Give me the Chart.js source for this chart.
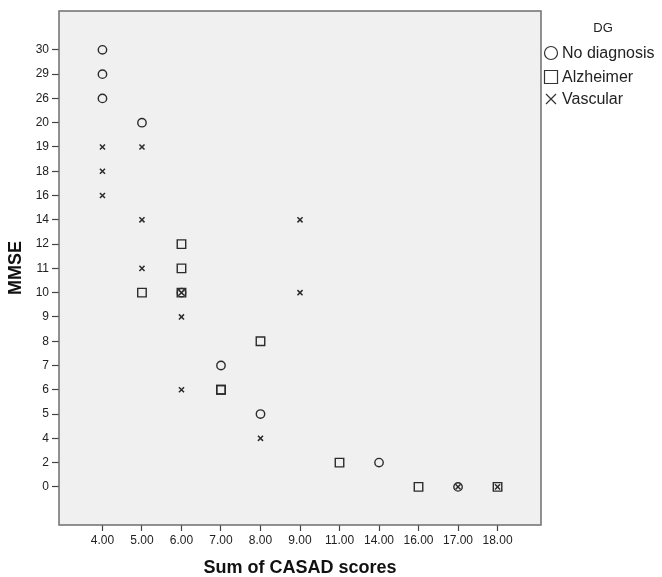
<!DOCTYPE html>
<html>
<head>
<meta charset="utf-8">
<script src="https://cdn.jsdelivr.net/npm/chart.js@4"></script>
<style>
  html, body { margin: 0; padding: 0; background: #fff; }
  #wrap { width: 662px; height: 577px; }
</style>
</head>
<body>
<div id="wrap"><canvas id="chart" width="662" height="577"></canvas></div>
<script>
// categories on both axes (SPSS treats them as ordinal, evenly spaced)
const xLabels = ['4.00', '5.00', '6.00', '7.00', '8.00', '9.00', '11.00', '14.00', '16.00', '17.00', '18.00'];
const yLabels = ['0', '2', '4', '5', '6', '7', '8', '9', '10', '11', '12', '14', '16', '18', '19', '20', '26', '29', '30'];

// points per diagnosis group: [CASAD sum, MMSE]
const noDiagX = ['4.00', '4.00', '4.00', '5.00', '6.00', '7.00', '8.00', '14.00', '17.00'];
const noDiagY = ['30', '29', '26', '20', '10', '7', '5', '2', '0'];

const alzX = ['6.00', '6.00', '5.00', '6.00', '8.00', '7.00', '7.00', '11.00', '16.00', '18.00'];
const alzY = ['12', '11', '10', '10', '8', '6', '6', '2', '0', '0'];

const vascX = ['4.00', '5.00', '4.00', '4.00', '5.00', '9.00', '5.00', '6.00', '9.00', '6.00', '6.00', '8.00', '17.00', '18.00'];
const vascY = ['19', '19', '18', '16', '14', '14', '11', '10', '10', '9', '6', '4', '0', '0'];

const groupNames = ['No diagnosis', 'Alzheimer', 'Vascular'];

function toPoints(xs, ys) {
  return xs.map((x, i) => ({ x: xLabels.indexOf(x), y: yLabels.indexOf(ys[i]) }));
}

const ink = '#2b2b2b';

// plot background + frame
const framePlugin = {
  id: 'frame',
  beforeDatasetsDraw(chart) {
    const a = chart.chartArea, c = chart.ctx;
    c.save();
    c.fillStyle = '#f0f0f0';
    c.fillRect(a.left, a.top, a.right - a.left, a.bottom - a.top);
    c.restore();
  },
  afterDraw(chart) {
    const a = chart.chartArea, c = chart.ctx;
    c.save();
    c.strokeStyle = '#6e6e6e';
    c.lineWidth = 1.5;
    c.strokeRect(a.left, a.top, a.right - a.left, a.bottom - a.top);
    c.restore();
  }
};

// SPSS style legend on the right
const legendPlugin = {
  id: 'spssLegend',
  afterDraw(chart) {
    const c = chart.ctx;
    c.save();
    c.fillStyle = '#222';
    c.font = '13px "Liberation Sans", Arial, sans-serif';
    c.textAlign = 'center';
    c.textBaseline = 'middle';
    c.fillText('DG', 603, 28);
    c.font = '16px "Liberation Sans", Arial, sans-serif';
    c.textAlign = 'left';
    c.strokeStyle = '#333';
    c.lineWidth = 1.2;
    const rows = [53, 77, 99];
    chart.data.datasets.forEach((ds, i) => {
      const y = rows[i], x = 551;
      c.beginPath();
      if (i === 0) {
        c.arc(x, y, 6.5, 0, Math.PI * 2);
      } else if (i === 1) {
        c.rect(x - 6.5, y - 6.5, 13, 13);
      } else {
        c.moveTo(x - 5, y - 5); c.lineTo(x + 5, y + 5);
        c.moveTo(x + 5, y - 5); c.lineTo(x - 5, y + 5);
      }
      c.stroke();
      c.fillText(ds.label, 562, y + 1);
    });
    c.restore();
  }
};

new Chart(document.getElementById('chart'), {
  type: 'scatter',
  data: {
    datasets: [
      {
        label: groupNames[0],
        data: toPoints(noDiagX, noDiagY),
        pointStyle: 'circle',
        pointRadius: 4.2,
        pointHoverRadius: 4.2,
        borderColor: ink,
        backgroundColor: 'rgba(0,0,0,0)',
        borderWidth: 1.4
      },
      {
        label: groupNames[1],
        data: toPoints(alzX, alzY),
        pointStyle: 'rect',
        pointRadius: 6,
        pointHoverRadius: 6,
        borderColor: ink,
        backgroundColor: 'rgba(0,0,0,0)',
        borderWidth: 1.4
      },
      {
        label: groupNames[2],
        data: toPoints(vascX, vascY),
        pointStyle: 'crossRot',
        pointRadius: 3.6,
        pointHoverRadius: 3.6,
        borderColor: ink,
        backgroundColor: ink,
        borderWidth: 1.5
      }
    ]
  },
  options: {
    responsive: false,
    animation: false,
    layout: { padding: { left: 0, top: 11, right: 121, bottom: 0 } },
    plugins: {
      legend: { display: false },
      tooltip: { enabled: false }
    },
    scales: {
      x: {
        type: 'linear',
        min: -1.1,
        max: 11.1,
        afterBuildTicks: s => { s.ticks = xLabels.map((_, i) => ({ value: i })); },
        afterFit: s => { s.height = 52; },
        ticks: {
          callback: v => xLabels[v],
          color: '#222',
          font: { family: '"Liberation Sans", Arial, sans-serif', size: 12 },
          padding: 2,
          maxRotation: 0,
          autoSkip: false
        },
        grid: { drawOnChartArea: false, tickLength: 6, color: '#444', tickWidth: 1.2 },
        border: { display: false },
        title: {
          display: true,
          text: 'Sum of CASAD scores',
          color: '#111',
          font: { family: '"Liberation Sans", Arial, sans-serif', size: 18, weight: 'bold', lineHeight: 1 },
          padding: { top: 0, bottom: 0 }
        }
      },
      y: {
        type: 'linear',
        min: -1.57,
        max: 19.6,
        afterBuildTicks: s => { s.ticks = yLabels.map((_, i) => ({ value: i })); },
        afterFit: s => { s.width = 59; },
        ticks: {
          callback: v => yLabels[v],
          color: '#222',
          font: { family: '"Liberation Sans", Arial, sans-serif', size: 12 },
          padding: 3,
          autoSkip: false
        },
        grid: { drawOnChartArea: false, tickLength: 7, color: '#444', tickWidth: 1.2 },
        border: { display: false },
        title: {
          display: true,
          text: 'MMSE',
          color: '#111',
          font: { family: '"Liberation Sans", Arial, sans-serif', size: 18, weight: 'bold', lineHeight: 1 },
          padding: { top: 7, bottom: 0 }
        }
      }
    }
  },
  plugins: [framePlugin, legendPlugin]
});
</script>
</body>
</html>
